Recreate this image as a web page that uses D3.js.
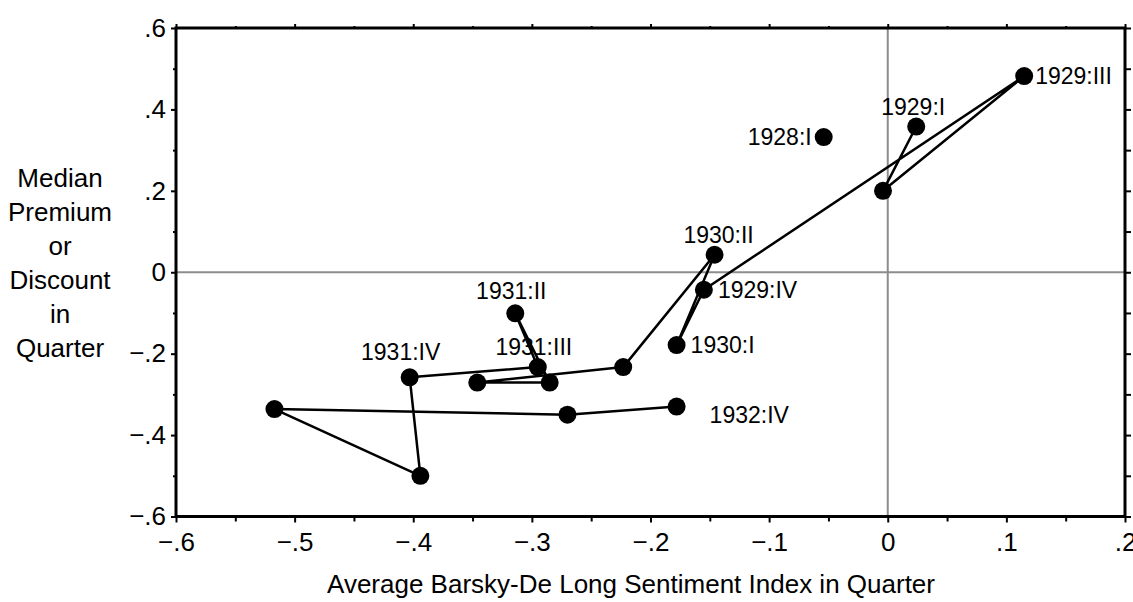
<!DOCTYPE html>
<html>
<head>
<meta charset="utf-8">
<script src="https://cdn.jsdelivr.net/npm/d3@7"></script>
<style>
  html, body { margin: 0; padding: 0; background: #ffffff; }
  svg text { font-family: "Liberation Sans", Arial, Helvetica, sans-serif; fill: #000; }
</style>
</head>
<body>
<div id="chart"></div>
<script>
  // Quarterly observations, 1928:I isolated, 1929:I .. 1932:IV connected
  const quarters = ['1928:I',
    '1929:I', '1929:II', '1929:III', '1929:IV',
    '1930:I', '1930:II', '1930:III', '1930:IV',
    '1931:I', '1931:II', '1931:III', '1931:IV',
    '1932:I', '1932:II', '1932:III', '1932:IV'];
  const sentiment = [-0.054,
    0.024, -0.004, 0.115, -0.155,
    -0.178, -0.146, -0.223, -0.346,
    -0.285, -0.314, -0.295, -0.403,
    -0.394, -0.517, -0.270, -0.178];
  const premium = [0.332,
    0.358, 0.200, 0.482, -0.043,
    -0.179, 0.043, -0.233, -0.271,
    -0.271, -0.101, -0.233, -0.258,
    -0.500, -0.336, -0.350, -0.330];
  const connectedFrom = '1929:I';

  const xTicks = [-0.6, -0.5, -0.4, -0.3, -0.2, -0.1, 0, 0.1, 0.2];
  const yTicks = [-0.6, -0.4, -0.2, 0, 0.2, 0.4, 0.6];
  const yTitleLines = ['Median', 'Premium', 'or', 'Discount', 'in', 'Quarter'];
  const xTitle = 'Average Barsky-De Long Sentiment Index in Quarter';

  // where each printed label sits relative to its dot
  const labelPlacement = {
    '1928:I':   { anchor: 'end',    dx: -12, dy: 8 },
    '1929:I':   { anchor: 'middle', dx: -3,  dy: -12 },
    '1929:III': { anchor: 'start',  dx: 11,  dy: 8 },
    '1929:IV':  { anchor: 'start',  dx: 14,  dy: 8 },
    '1930:I':   { anchor: 'start',  dx: 14,  dy: 8 },
    '1930:II':  { anchor: 'middle', dx: 4,   dy: -12 },
    '1931:II':  { anchor: 'middle', dx: -4,  dy: -14 },
    '1931:III': { anchor: 'middle', dx: -4,  dy: -12 },
    '1931:IV':  { anchor: 'middle', dx: -9,  dy: -17 },
    '1932:IV':  { anchor: 'start',  dx: 33,  dy: 16 }
  };

  (function() {
    'use strict';

    const width = 1133, height = 602;
    const m = { left: 176, right: 1125, top: 28, bottom: 516.5 };

    const points = quarters.map((q, i) => ({ q: q, x: sentiment[i], y: premium[i] }));

    const x = d3.scaleLinear().domain([-0.6, 0.2]).range([m.left, m.right]);
    const y = d3.scaleLinear().domain([-0.6, 0.6]).range([m.bottom, m.top]);

    const fmt = d => Math.abs(d) < 1e-9 ? '0' : d3.format('.1f')(d).replace('0.', '.');

    const svg = d3.select('#chart').append('svg')
      .attr('width', width)
      .attr('height', height);

    // zero reference lines
    svg.append('line')
      .attr('x1', x(0)).attr('x2', x(0))
      .attr('y1', m.top).attr('y2', m.bottom)
      .attr('stroke', '#8c8c8c').attr('stroke-width', 2);
    svg.append('line')
      .attr('x1', m.left).attr('x2', m.right)
      .attr('y1', y(0)).attr('y2', y(0))
      .attr('stroke', '#8c8c8c').attr('stroke-width', 2);

    const minorX = [-0.55, -0.45, -0.35, -0.25, -0.15, -0.05, 0.05, 0.15];
    const minorY = [-0.5, -0.3, -0.1, 0.1, 0.3, 0.5];
    const allY = [-0.6, -0.5, -0.4, -0.3, -0.2, -0.1, 0, 0.1, 0.2, 0.3, 0.4, 0.5, 0.6];

    function styleAxis(g) {
      g.attr('font-family', null);
      g.select('.domain').remove();
      g.selectAll('line').attr('stroke', '#000').attr('stroke-width', 2);
      g.selectAll('text').attr('font-size', 26).attr('fill', '#000');
    }

    // bottom
    svg.append('g').attr('transform', `translate(0,${m.bottom})`)
      .call(d3.axisBottom(x).tickValues(xTicks).tickFormat(fmt).tickSize(6).tickPadding(10))
      .call(styleAxis);
    svg.append('g').attr('transform', `translate(0,${m.bottom})`)
      .call(d3.axisBottom(x).tickValues(minorX).tickFormat('').tickSize(5))
      .call(styleAxis);

    // top
    svg.append('g').attr('transform', `translate(0,${m.top})`)
      .call(d3.axisTop(x).tickValues(xTicks).tickFormat('').tickSize(4))
      .call(styleAxis);
    svg.append('g').attr('transform', `translate(0,${m.top})`)
      .call(d3.axisTop(x).tickValues(minorX).tickFormat('').tickSize(2))
      .call(styleAxis);

    // left
    svg.append('g').attr('transform', `translate(${m.left},0)`)
      .call(d3.axisLeft(y).tickValues(yTicks).tickFormat(fmt).tickSize(5).tickPadding(5))
      .call(styleAxis);
    svg.append('g').attr('transform', `translate(${m.left},0)`)
      .call(d3.axisLeft(y).tickValues(minorY).tickFormat('').tickSize(3))
      .call(styleAxis);

    // right
    svg.append('g').attr('transform', `translate(${m.right},0)`)
      .call(d3.axisRight(y).tickValues(allY).tickFormat('').tickSize(6))
      .call(styleAxis);

    // frame
    svg.append('rect')
      .attr('x', m.left).attr('y', m.top)
      .attr('width', m.right - m.left).attr('height', m.bottom - m.top)
      .attr('fill', 'none').attr('stroke', '#000').attr('stroke-width', 3);

    // connected path
    const start = quarters.indexOf(connectedFrom);
    const line = d3.line().x(d => x(d.x)).y(d => y(d.y));
    svg.append('path')
      .datum(points.slice(start))
      .attr('d', line)
      .attr('fill', 'none')
      .attr('stroke', '#000')
      .attr('stroke-width', 2.5)
      .attr('stroke-linejoin', 'round');

    // dots
    svg.append('g').selectAll('circle')
      .data(points)
      .enter()
      .append('circle')
      .attr('cx', d => x(d.x))
      .attr('cy', d => y(d.y))
      .attr('r', 9)
      .attr('fill', '#000');

    // point labels
    svg.append('g').selectAll('text')
      .data(points.filter(d => labelPlacement[d.q]))
      .enter()
      .append('text')
      .attr('x', d => x(d.x) + labelPlacement[d.q].dx)
      .attr('y', d => y(d.y) + labelPlacement[d.q].dy)
      .attr('text-anchor', d => labelPlacement[d.q].anchor)
      .attr('font-size', 23)
      .text(d => d.q);

    // axis titles
    svg.append('text')
      .attr('x', 631)
      .attr('y', 593)
      .attr('text-anchor', 'middle')
      .attr('font-size', 26)
      .text(xTitle);

    svg.append('g').selectAll('text')
      .data(yTitleLines)
      .enter()
      .append('text')
      .attr('x', 60)
      .attr('y', (d, i) => 187 + i * 34)
      .attr('text-anchor', 'middle')
      .attr('font-size', 26)
      .text(d => d);
  })();
</script>
</body>
</html>
